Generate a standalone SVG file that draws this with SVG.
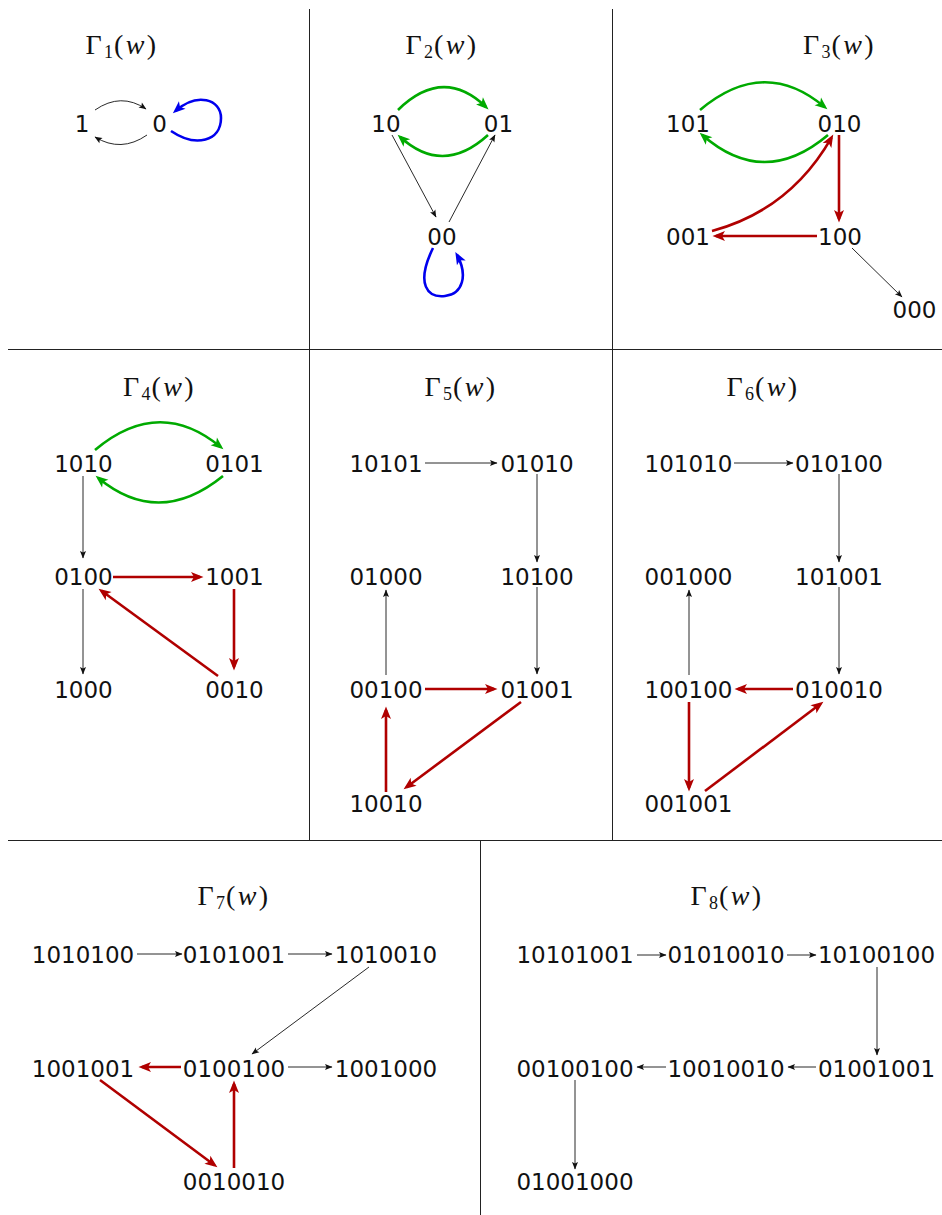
<svg xmlns="http://www.w3.org/2000/svg" width="942" height="1215" viewBox="0 0 942 1215">
<style>
.n{font-family:"DejaVu Sans",sans-serif;font-size:23px;fill:#111;text-anchor:middle}
.t{font-family:"Liberation Serif",serif;font-size:28px;fill:#111;text-anchor:middle;letter-spacing:2.4px}
.t .s{font-size:18px;letter-spacing:1px}
.t .w{font-style:italic}
.grid{stroke:#222;stroke-width:1;fill:none}
.k{stroke:#111;stroke-width:0.9;fill:none;marker-end:url(#ak)}
.g{stroke:#00AA00;stroke-width:2.6;fill:none;marker-end:url(#ag)}
.r{stroke:#B00000;stroke-width:2.6;fill:none;marker-end:url(#ar)}
.b{stroke:#0000EE;stroke-width:2.6;fill:none;marker-end:url(#ab)}
</style>
<defs>
<marker id="ak" markerUnits="userSpaceOnUse" markerWidth="10" markerHeight="8" refX="7" refY="3" orient="auto" overflow="visible"><path d="M0,0 L7.5,3 L0,6 L1.5,3 z" fill="#111"/></marker>
<marker id="ag" markerUnits="userSpaceOnUse" markerWidth="14" markerHeight="12" refX="9" refY="5" orient="auto" overflow="visible"><path d="M0,0 L12.5,5 L0,10 L3,5 z" fill="#00AA00"/></marker>
<marker id="ar" markerUnits="userSpaceOnUse" markerWidth="14" markerHeight="12" refX="9" refY="5" orient="auto" overflow="visible"><path d="M0,0 L12.5,5 L0,10 L3,5 z" fill="#B00000"/></marker>
<marker id="ab" markerUnits="userSpaceOnUse" markerWidth="14" markerHeight="12" refX="9" refY="5" orient="auto" overflow="visible"><path d="M0,0 L12.5,5 L0,10 L3,5 z" fill="#0000EE"/></marker>
</defs>
<rect width="942" height="1215" fill="#fff"/>
<g id="grid" class="grid">
<line x1="8" y1="349.5" x2="942" y2="349.5"/>
<line x1="8" y1="840.5" x2="942" y2="840.5"/>
<line x1="309.5" y1="9" x2="309.5" y2="840.5"/>
<line x1="612.5" y1="9" x2="612.5" y2="840.5"/>
<line x1="480.5" y1="840.5" x2="480.5" y2="1215"/>
</g>
<g id="titles">
<text class="t" x="122" y="54">Γ<tspan class="s" dy="4">1</tspan><tspan dy="-4">(</tspan><tspan class="w">w</tspan>)</text>
<text class="t" x="442" y="54">Γ<tspan class="s" dy="4">2</tspan><tspan dy="-4">(</tspan><tspan class="w">w</tspan>)</text>
<text class="t" x="839.5" y="54">Γ<tspan class="s" dy="4">3</tspan><tspan dy="-4">(</tspan><tspan class="w">w</tspan>)</text>
<text class="t" x="159.5" y="396">Γ<tspan class="s" dy="4">4</tspan><tspan dy="-4">(</tspan><tspan class="w">w</tspan>)</text>
<text class="t" x="461" y="396">Γ<tspan class="s" dy="4">5</tspan><tspan dy="-4">(</tspan><tspan class="w">w</tspan>)</text>
<text class="t" x="763" y="396">Γ<tspan class="s" dy="4">6</tspan><tspan dy="-4">(</tspan><tspan class="w">w</tspan>)</text>
<text class="t" x="234" y="905">Γ<tspan class="s" dy="4">7</tspan><tspan dy="-4">(</tspan><tspan class="w">w</tspan>)</text>
<text class="t" x="727" y="905">Γ<tspan class="s" dy="4">8</tspan><tspan dy="-4">(</tspan><tspan class="w">w</tspan>)</text>
</g>
<g id="connectors">
<!-- panel 1 -->
<path class="k" d="M95,110 Q121,92 146,109"/>
<path class="k" d="M147,135 Q121,153 95,137"/>
<path class="b" d="M171,131 C196,148 221,141 221,118 C221,99 197,92 175.5,111"/>
<!-- panel 2 -->
<path class="g" d="M398,110 Q443,66 486,107"/>
<path class="g" d="M488,135 Q443,176 400.2,137"/>
<path class="k" d="M392,135 L436,217"/>
<path class="k" d="M449,222 L495,135"/>
<path class="b" d="M433,248 C415,285 428,298 445,296 C463,294 468,275 457,255"/>
<!-- panel 3 -->
<path class="g" d="M700,110 Q764,56 824.7,107.1"/>
<path class="g" d="M828,135 Q764,189 702.3,135"/>
<path class="r" d="M712,231 Q790,210 831.5,137.6"/>
<path class="r" d="M839,135 L839,219"/>
<path class="r" d="M817,236 L716,236"/>
<path class="k" d="M852,248 L902,297"/>
<!-- panel 4 -->
<path class="g" d="M95,450 Q159,396 220.7,447.1"/>
<path class="g" d="M223,476 Q159,528 98.3,477.9"/>
<path class="k" d="M83,476 L83,558"/>
<path class="r" d="M113,577 L200,577"/>
<path class="r" d="M234,589 L234,667"/>
<path class="r" d="M218,676 L101.4,590.8"/>
<path class="k" d="M83,589 L83,674"/>
<!-- panel 5 -->
<path class="k" d="M425,463 L497,463"/>
<path class="k" d="M537,474 L537,562"/>
<path class="k" d="M537,587 L537,674"/>
<path class="k" d="M386,675 L386,590"/>
<path class="r" d="M425,689 L494,689"/>
<path class="r" d="M521,702 L406.4,787.2"/>
<path class="r" d="M386,792 L386,710"/>
<!-- panel 6 -->
<path class="k" d="M734,463 L793,463"/>
<path class="k" d="M839,474 L839,562"/>
<path class="k" d="M839,587 L839,674"/>
<path class="k" d="M689,675 L689,590"/>
<path class="r" d="M793,689 L738,689"/>
<path class="r" d="M689,702 L689,788"/>
<path class="r" d="M705,791 L820.6,703.8"/>
<!-- panel 7 -->
<path class="k" d="M137,954 L182,954"/>
<path class="k" d="M288,954 L332,954"/>
<path class="k" d="M369,967 L252,1054"/>
<path class="r" d="M181,1067 L142,1067"/>
<path class="k" d="M288,1067 L332,1067"/>
<path class="r" d="M100,1080 L214.6,1165.2"/>
<path class="r" d="M234,1168 L234,1084"/>
<!-- panel 8 -->
<path class="k" d="M637,955 L666,955"/>
<path class="k" d="M787,955 L816,955"/>
<path class="k" d="M877,967 L877,1055"/>
<path class="k" d="M816,1067 L788,1067"/>
<path class="k" d="M666,1067 L637,1067"/>
<path class="k" d="M575,1080 L575,1169"/>
</g>
<g id="p1-1"><text class="n" x="82" y="131.5">1</text></g>
<g id="p1-0"><text class="n" x="159.5" y="131.5">0</text></g>
<g id="p2-10"><text class="n" x="386" y="131.5">10</text></g>
<g id="p2-01"><text class="n" x="498.5" y="131.5">01</text></g>
<g id="p2-00"><text class="n" x="442" y="245">00</text></g>
<g id="p3-101"><text class="n" x="688" y="131.5">101</text></g>
<g id="p3-010"><text class="n" x="839.5" y="131.5">010</text></g>
<g id="p3-001"><text class="n" x="688" y="245">001</text></g>
<g id="p3-100"><text class="n" x="840" y="245">100</text></g>
<g id="p3-000"><text class="n" x="914.5" y="318">000</text></g>
<g id="p4-1010"><text class="n" x="83.5" y="472">1010</text></g>
<g id="p4-0101"><text class="n" x="234.5" y="472">0101</text></g>
<g id="p4-0100"><text class="n" x="83.5" y="585">0100</text></g>
<g id="p4-1001"><text class="n" x="234.5" y="585">1001</text></g>
<g id="p4-1000"><text class="n" x="83.5" y="698">1000</text></g>
<g id="p4-0010"><text class="n" x="234.5" y="698">0010</text></g>
<g id="p5-10101"><text class="n" x="386" y="472">10101</text></g>
<g id="p5-01010"><text class="n" x="537" y="472">01010</text></g>
<g id="p5-01000"><text class="n" x="386" y="585">01000</text></g>
<g id="p5-10100"><text class="n" x="537" y="585">10100</text></g>
<g id="p5-00100"><text class="n" x="386" y="698">00100</text></g>
<g id="p5-01001"><text class="n" x="537" y="698">01001</text></g>
<g id="p5-10010"><text class="n" x="386" y="812">10010</text></g>
<g id="p6-101010"><text class="n" x="688.5" y="472">101010</text></g>
<g id="p6-010100"><text class="n" x="839" y="472">010100</text></g>
<g id="p6-001000"><text class="n" x="688.5" y="585">001000</text></g>
<g id="p6-101001"><text class="n" x="839" y="585">101001</text></g>
<g id="p6-100100"><text class="n" x="688.5" y="698">100100</text></g>
<g id="p6-010010"><text class="n" x="839" y="698">010010</text></g>
<g id="p6-001001"><text class="n" x="688.5" y="812">001001</text></g>
<g id="p7-1010100"><text class="n" x="83" y="963">1010100</text></g>
<g id="p7-0101001"><text class="n" x="234" y="963">0101001</text></g>
<g id="p7-1010010"><text class="n" x="386" y="963">1010010</text></g>
<g id="p7-1001001"><text class="n" x="83" y="1077">1001001</text></g>
<g id="p7-0100100"><text class="n" x="234" y="1077">0100100</text></g>
<g id="p7-1001000"><text class="n" x="386" y="1077">1001000</text></g>
<g id="p7-0010010"><text class="n" x="234" y="1190">0010010</text></g>
<g id="p8-10101001"><text class="n" x="575" y="963">10101001</text></g>
<g id="p8-01010010"><text class="n" x="726" y="963">01010010</text></g>
<g id="p8-10100100"><text class="n" x="876.5" y="963">10100100</text></g>
<g id="p8-00100100"><text class="n" x="575" y="1077">00100100</text></g>
<g id="p8-10010010"><text class="n" x="726" y="1077">10010010</text></g>
<g id="p8-01001001"><text class="n" x="876.5" y="1077">01001001</text></g>
<g id="p8-01001000"><text class="n" x="575" y="1190">01001000</text></g>
</svg>
